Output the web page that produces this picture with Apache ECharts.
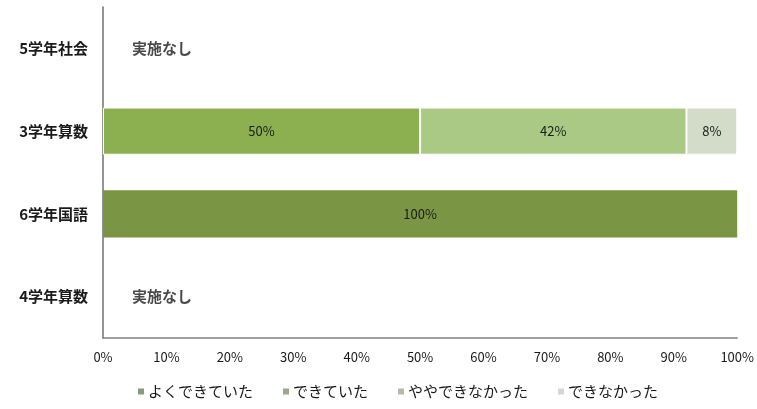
<!DOCTYPE html>
<html><head><meta charset="utf-8">
<script src="https://cdn.jsdelivr.net/npm/echarts@6/dist/echarts.min.js"></script>
<style>html,body{margin:0;padding:0;background:#fff}#c{width:757px;height:409px}</style>
</head><body><div id="c"></div>
<script>
const categories = ['4学年算数', '6学年国語', '3学年算数', '5学年社会'];
const seriesNames = ['よくできていた', 'できていた', 'ややできなかった', 'できなかった'];
const yokuDekiteita = [null, 100, null, null];
const dekiteita = [null, null, 50, null];
const yayaDekinakatta = [null, null, 42, null];
const dekinakatta = [null, null, 8, null];
const notConducted = ['4学年算数', '5学年社会'];
const notConductedText = '実施なし';
const xTicks = [0, 10, 20, 30, 40, 50, 60, 70, 80, 90, 100];

const colors = ['#7a9543', '#8cb050', '#a9c985', '#d3dcc9'];
const legendColors = ['#8a9a78', '#9aa98a', '#b4bca8', '#d4d8d0'];
const font = '"Noto Sans CJK JP", sans-serif';
const values = [yokuDekiteita, dekiteita, yayaDekinakatta, dekinakatta];

const series = values.map((v, i) => ({
  name: seriesNames[i], type: 'bar', stack: 'total', barWidth: '57%',
  data: v,
  itemStyle: { color: colors[i], borderColor: '#ffffff', borderWidth: i === 0 ? 0 : 1 },
  label: { show: true, position: 'inside', formatter: p => p.value == null ? '' : p.value + '%',
           color: '#1a1a1a', fontSize: 13, fontFamily: font }
}));
series.push({
  type: 'scatter', symbolSize: 0, silent: true,
  data: notConducted.map(c => [0, c]),
  label: { show: true, position: 'right', distance: 0, offset: [29, 0], formatter: notConductedText,
           color: '#1a1a1a', fontSize: 15, fontWeight: 'bold', fontFamily: font }
});

const chart = echarts.init(document.getElementById('c'));
chart.setOption({
  animation: false,
  grid: { left: 103, right: 18, top: 7, bottom: 71, containLabel: false },
  xAxis: {
    type: 'value', min: 0, max: 100, interval: 10,
    axisLabel: { formatter: v => xTicks.includes(v) ? v + '%' : '', color: '#1a1a1a', fontSize: 13, fontFamily: font, margin: 13 },
    axisLine: { show: true, lineStyle: { color: '#808080', width: 1.5 } },
    axisTick: { show: false }, splitLine: { show: false }
  },
  yAxis: {
    type: 'category', data: categories,
    axisLabel: { color: '#1a1a1a', fontSize: 15, fontWeight: 'bold', fontFamily: font, margin: 15 },
    axisLine: { show: true, lineStyle: { color: '#707070', width: 1.5 } },
    axisTick: { show: false }
  },
  legend: {
    bottom: 5, left: 133, itemWidth: 6, itemHeight: 6, itemGap: 30, icon: 'rect',
    data: seriesNames.map((n, i) => ({ name: n, itemStyle: { color: legendColors[i], borderWidth: 0 } })),
    textStyle: { color: '#1a1a1a', fontSize: 15, fontFamily: font, padding: [0, 0, 0, -1] }
  },
  series: series
});
</script></body></html>
